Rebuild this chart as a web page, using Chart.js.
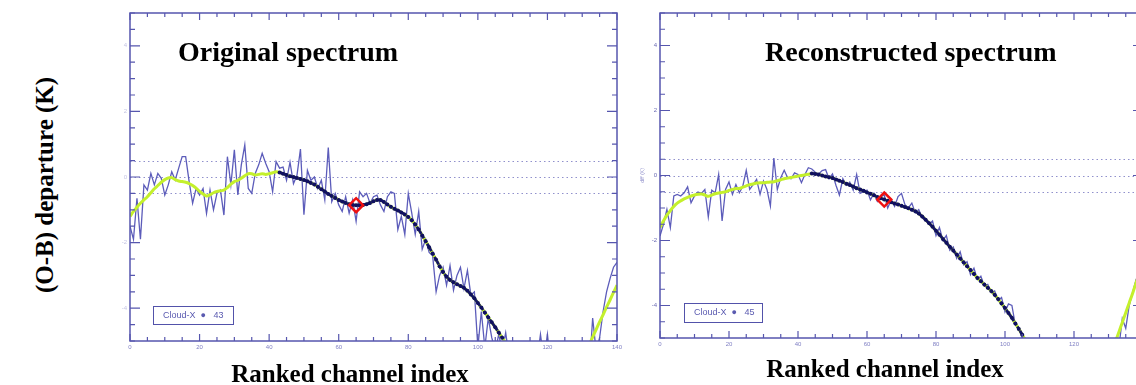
<!DOCTYPE html>
<html>
<head>
<meta charset="utf-8">
<script src="https://cdn.jsdelivr.net/npm/chart.js@4.4.0/dist/chart.umd.min.js"></script>
<style>
  html, body { margin: 0; padding: 0; background: #fff; overflow: hidden; }
  body { width: 1136px; height: 385px; position: relative; }
  canvas { position: absolute; top: 0; }
  .big { position: absolute; font-family: "Liberation Serif", "Times New Roman", serif; font-weight: bold; color: #000; white-space: nowrap; }
  .legend { position: absolute; border: 1.5px solid #5252aa; font-family: "Liberation Sans", Arial, sans-serif; font-size: 9px; color: #5a5ab0; box-sizing: border-box; line-height: 16px; padding-left: 9px; white-space: nowrap; }
</style>
</head>
<body>
<canvas id="left" width="520" height="385" style="left:110px"></canvas>
<canvas id="right" width="520" height="385" style="left:640px"></canvas>

<div class="big" style="font-size:25px; left:45px; top:185px; transform: translate(-50%,-50%) rotate(-90deg);">(O-B) departure (K)</div>
<div class="big" style="font-size:28px; left:178px; top:38px; line-height:28px;">Original spectrum</div>
<div class="big" style="font-size:28px; left:765px; top:38px; line-height:28px;">Reconstructed spectrum</div>
<div class="big" style="font-size:25px; left:350px; top:361px; line-height:25px; transform: translateX(-50%);">Ranked channel index</div>
<div class="big" style="font-size:25px; left:885px; top:356px; line-height:25px; transform: translateX(-50%);">Ranked channel index</div>
<div class="legend" style="left:153px; top:306px; width:81px; height:19px;">Cloud-X&nbsp;&nbsp;&#9679;&nbsp;&nbsp;&nbsp;43</div>
<div class="legend" style="left:684px; top:303px; width:79px; height:20px;">Cloud-X&nbsp;&nbsp;&#9679;&nbsp;&nbsp;&nbsp;45</div>

<script>
// tick positions and labels
const xTicks = [0, 5, 10, 15, 20, 25, 30, 35, 40, 45, 50, 55, 60, 65, 70, 75, 80, 85, 90, 95, 100, 105, 110, 115, 120, 125, 130, 135, 140];
const yTicks = [-5, -4.5, -4, -3.5, -3, -2.5, -2, -1.5, -1, -0.5, 0, 0.5, 1, 1.5, 2, 2.5, 3, 3.5, 4, 4.5, 5];
const xLabels = [0, 20, 40, 60, 80, 100, 120, 140];
const yLabels = [-4, -2, 0, 2, 4];
const refLines = [-0.5, 0, 0.5];

// original spectrum (channels 0..140)
const origNoisy = [-1.5, -1.9, -0.65, -1.9, -0.24, -0.4, 0.11, -0.24, 0.11, -0.04,
  -0.55, -0.24, 0.16, -0.09, 0.27, 0.62, 0.62, -0.14, -0.8, -0.35,
  -0.55, -0.35, -1.11, -0.4, -1.0, -0.5, -0.4, -1.16, 0.62, -0.24,
  0.83, -0.55, 0.37, 0.98, -0.35, -0.5, 0.11, 0.37, 0.72, 0.42,
  0.16, -0.45, 0.47, 0.27, 0.3, -0.1, 0.45, -0.2, 0.05, 0.85,
  -1.15, 0.2, -0.1, 0.0, -0.35, -0.1, -0.7, 0.9, -0.75, -0.5,
  -0.85, -1.05, -0.6, -1.1, -0.7, -1.35, -0.45, -0.6, -0.5, -0.8,
  -0.6, -0.55, -0.85, -1.05, -0.6, -0.45, -0.5, -1.6, -1.2, -1.75,
  -0.5, -1.1, -1.75, -1.05, -2.2, -1.9, -2.3, -2.4, -3.5, -3.0,
  -2.75, -3.3, -2.7, -3.45, -3.0, -2.75, -3.4, -2.85, -3.6, -3.5,
  -5.2, -4.1, -5.2, -4.3, -4.9, -5.3, -4.8, -5.3, -4.75, -5.5,
  -6, -6, -6, -6, -6, -6, -6, -5.6, -4.8, -5.6,
  -4.8, -5.8, -6, -6, -6, -6, -6, -6, -6, -6,
  -6, -6, -6, -4.3, -5.3, -4.9, -4.1, -3.5, -3.1, -2.75,
  -2.6];
const origFit = [-1.2, -1.05, -0.92, -0.8, -0.7, -0.6, -0.48, -0.36, -0.26, -0.16,
  -0.08, -0.03, -0.02, -0.08, -0.12, -0.14, -0.16, -0.2, -0.26, -0.34,
  -0.44, -0.52, -0.58, -0.54, -0.48, -0.44, -0.42, -0.4, -0.32, -0.22,
  -0.14, -0.1, -0.04, 0.04, 0.1, 0.1, 0.06, 0.08, 0.1, 0.08,
  0.1, 0.13, 0.16, 0.14, 0.1, 0.06, 0.02, 0.0, -0.03, -0.06,
  -0.09, -0.13, -0.18, -0.23, -0.3, -0.37, -0.44, -0.52, -0.58, -0.64,
  -0.7, -0.75, -0.79, -0.83, -0.85, -0.86, -0.86, -0.85, -0.83, -0.79,
  -0.74, -0.7, -0.7, -0.76, -0.84, -0.91, -0.97, -1.02, -1.08, -1.14,
  -1.22, -1.32, -1.45, -1.6, -1.78, -1.96, -2.14, -2.33, -2.52, -2.72,
  -2.9, -3.04, -3.14, -3.21, -3.27, -3.32, -3.38, -3.47, -3.58, -3.7,
  -3.84, -3.98, -4.13, -4.28, -4.43, -4.58, -4.74, -4.9, -5.06, -5.23,
  -5.4, -5.58, -5.75, -5.9, -6.05, -6.18, -6.3, -6.38, -6.45, -6.48,
  -6.5, -6.48, -6.45, -6.38, -6.3, -6.2, -6.1, -5.98, -5.85, -5.72,
  -5.58, -5.36, -5.12, -4.88, -4.65, -4.42, -4.2, -3.97, -3.75, -3.52,
  -3.3];
const origSelRange = [43, 107];
const origMark = [65, -0.86];

// reconstructed spectrum (channels 0..140)
const recNoisy = [-1.86, -1.5, -1.04, -1.6, -0.63, -0.58, -0.63, -0.53, -0.35, -0.84,
  -0.63, -0.51, -0.55, -0.43, -1.27, -0.45, -0.53, 0.03, -1.4, -0.43,
  -0.2, -0.58, -0.28, -0.53, -0.33, 0.16, -0.43, -0.28, -0.12, -0.58,
  -0.17, -0.43, -0.94, 0.54, -0.43, -0.07, 0.16, -0.07, -0.1, 0.08,
  0.03, -0.22, 0.03, 0.24, 0.2, 0.1, 0.05, 0.15, 0.18, -0.1,
  0.05, -0.3, -0.6, -0.1, -0.3, -0.2, -0.45, 0.03, -0.55, -0.5,
  -0.45, -0.75, -0.55, -0.8, -0.65, -0.6, -1.0, -0.75, -0.95, -0.65,
  -0.55, -0.9, -1.0, -0.85, -1.15, -1.05, -1.3, -1.4, -1.5, -1.4,
  -1.85, -1.6, -2.0, -1.85, -2.3, -2.2, -2.55, -2.35, -2.75, -2.65,
  -3.05, -2.85, -3.2, -3.1, -3.4, -3.35, -3.6, -3.55, -3.85, -3.75,
  -4.2, -3.95, -4.0, -4.6, -4.7, -5.0, -5.2, -6, -6, -6,
  -6, -6, -6, -6, -6, -6, -6, -6, -6, -6,
  -6, -6, -6, -6, -6, -6, -6, -6, -6, -6,
  -6, -6, -6, -5.3, -4.4, -4.7, -4.0, -3.6, -3.2, -3.0,
  -2.8];
const recFit = [-1.6, -1.4, -1.22, -1.08, -0.95, -0.85, -0.78, -0.72, -0.67, -0.63,
  -0.6, -0.58, -0.57, -0.6, -0.64, -0.6, -0.56, -0.54, -0.52, -0.5,
  -0.46, -0.43, -0.4, -0.4, -0.36, -0.32, -0.28, -0.26, -0.23, -0.22,
  -0.22, -0.21, -0.2, -0.19, -0.16, -0.13, -0.1, -0.08, -0.06, -0.04,
  -0.02, 0.0, 0.02, 0.04, 0.06, 0.05, 0.03, 0.0, -0.03, -0.05,
  -0.08, -0.12, -0.16, -0.2, -0.25, -0.29, -0.34, -0.39, -0.43, -0.47,
  -0.52, -0.56, -0.61, -0.66, -0.7, -0.74, -0.78, -0.82, -0.86, -0.89,
  -0.93, -0.97, -1.01, -1.05, -1.1, -1.17, -1.26, -1.36, -1.47, -1.58,
  -1.7, -1.82, -1.95, -2.07, -2.19, -2.31, -2.43, -2.55, -2.67, -2.79,
  -2.91, -3.03, -3.15, -3.25, -3.35, -3.45, -3.55, -3.67, -3.8, -3.94,
  -4.08, -4.23, -4.38, -4.55, -4.72, -4.9, -5.08, -5.27, -5.45, -5.62,
  -5.8, -6.0, -6.2, -6.4, -6.6, -6.75, -6.9, -7.0, -7.1, -7.15,
  -7.2, -7.18, -7.15, -7.08, -7.0, -6.85, -6.7, -6.5, -6.3, -6.0,
  -5.72, -5.42, -5.12, -4.82, -4.52, -4.22, -3.92, -3.62, -3.3, -3.0,
  -2.7];
const recSelRange = [44, 105];
const recMark = [65, -0.74];

const axisColor = '#5656ae';

// box with inward ticks on all four sides, plus dotted reference lines
const framePlugin = {
  id: 'frame',
  beforeDatasetsDraw(chart) {
    const { ctx, chartArea: a, scales: { y } } = chart;
    ctx.save();
    ctx.strokeStyle = '#9090cc';
    ctx.lineWidth = 1;
    ctx.setLineDash([1.5, 3]);
    refLines.forEach(v => {
      const py = Math.round(y.getPixelForValue(v)) + 0.5;
      ctx.beginPath();
      ctx.moveTo(a.left, py);
      ctx.lineTo(a.right, py);
      ctx.stroke();
    });
    ctx.restore();
  },
  afterDatasetsDraw(chart) {
    const { ctx, chartArea: a, scales: { x, y } } = chart;
    ctx.save();
    ctx.strokeStyle = axisColor;
    ctx.lineWidth = 1.5;
    ctx.strokeRect(a.left, a.top, a.right - a.left, a.bottom - a.top);
    ctx.lineWidth = 1.2;
    ctx.beginPath();
    x.ticks.forEach(t => {
      const px = x.getPixelForValue(t.value);
      const len = t.value % 20 === 0 ? 7 : 4;
      ctx.moveTo(px, a.bottom); ctx.lineTo(px, a.bottom - len);
      ctx.moveTo(px, a.top); ctx.lineTo(px, a.top + len);
    });
    y.ticks.forEach(t => {
      const py = y.getPixelForValue(t.value);
      const len = t.value % 2 === 0 ? 10 : 5;
      ctx.moveTo(a.left, py); ctx.lineTo(a.left + len, py);
      ctx.moveTo(a.right, py); ctx.lineTo(a.right - len, py);
    });
    ctx.stroke();
    ctx.restore();
  }
};

function pts(arr, from, to) {
  const out = [];
  arr.forEach((v, i) => { if (i >= from && i <= to) out.push({ x: i, y: v }); });
  return out;
}

function makeChart(id, noisy, fit, selRange, mark, pad, yLabelColor, yTitle) {
  new Chart(document.getElementById(id).getContext('2d'), {
    type: 'line',
    data: {
      datasets: [
        {
          data: [{ x: mark[0], y: mark[1] }],
          showLine: false,
          pointStyle: 'rectRot',
          pointRadius: 7,
          pointBorderColor: '#ee1111',
          pointBackgroundColor: 'rgba(0,0,0,0)',
          pointBorderWidth: 2.5
        },
        {
          data: pts(fit, selRange[0], selRange[1]),
          borderColor: '#16166a',
          borderWidth: 2.8,
          borderDash: [3.5, 1.5],
          pointRadius: 2,
          pointBackgroundColor: '#101060',
          pointBorderWidth: 0
        },
        {
          data: pts(fit, 0, fit.length - 1),
          borderColor: '#c4f02c',
          borderWidth: 3,
          pointRadius: 0,
          tension: 0.3
        },
        {
          data: pts(noisy, 0, noisy.length - 1),
          borderColor: '#5c5cba',
          borderWidth: 1.3,
          pointRadius: 0
        }
      ]
    },
    options: {
      responsive: false,
      animation: false,
      devicePixelRatio: 1,
      layout: { padding: pad },
      plugins: { legend: { display: false }, tooltip: { enabled: false } },
      scales: {
        x: {
          type: 'linear', min: 0, max: 140,
          afterBuildTicks: s => { s.ticks = xTicks.map(v => ({ value: v })); },
          afterFit: s => { s.height = 20; },
          grid: { display: false, drawTicks: false },
          border: { display: false },
          ticks: {
            autoSkip: false, maxRotation: 0, padding: 3,
            color: '#8080c4', font: { size: 6, family: 'Liberation Sans' },
            callback: v => xLabels.includes(v) ? String(v) : ''
          }
        },
        y: {
          type: 'linear', min: -5, max: 5,
          afterBuildTicks: s => { s.ticks = yTicks.map(v => ({ value: v })); },
          afterFit: s => { s.width = 20; },
          grid: { display: false, drawTicks: false },
          border: { display: false },
          title: { display: !!yTitle, text: yTitle || '', color: '#8a8ac8', font: { size: 5, family: 'Liberation Sans' }, padding: 0 },
          ticks: {
            autoSkip: false, padding: 3,
            color: yLabelColor, font: { size: 6, family: 'Liberation Sans' },
            callback: v => yLabels.includes(v) ? String(v) : ''
          }
        }
      }
    },
    plugins: [framePlugin]
  });
}

makeChart('left', origNoisy, origFit, origSelRange, origMark,
  { left: 0, right: 13, top: 13, bottom: 24 }, '#c4c4e4', '');
makeChart('right', recNoisy, recFit, recSelRange, recMark,
  { left: 0, right: 17, top: 13, bottom: 27 }, '#6a6ab4', 'diff (K)');
</script>
</body>
</html>
